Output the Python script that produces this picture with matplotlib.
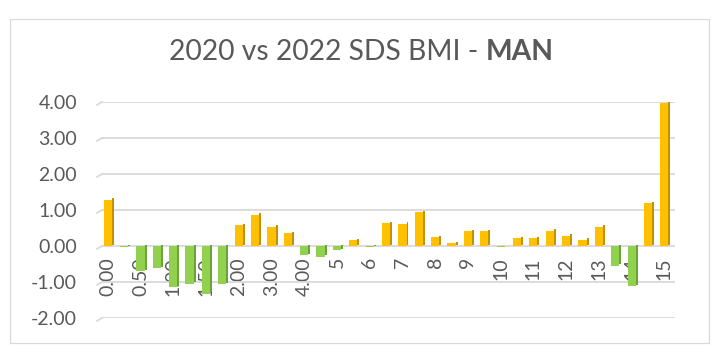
import matplotlib

matplotlib.use("Agg")
import matplotlib.pyplot as plt
import numpy as np
from matplotlib.patches import Rectangle

# categories (only every second one is labelled on the axis)
categories = [
    "0.00", "0.25", "0.50", "0.75", "1.00", "1.25", "1.50", "1.75", "2.00",
    "2.50", "3.00", "3.50", "4.00", "4.50",
    "5", "5.5", "6", "6.5", "7", "7.5", "8", "8.5", "9", "9.5", "10",
    "10.5", "11", "11.5", "12", "12.5", "13", "13.5", "14", "14.5", "15",
]
values = [
    1.28, -0.03, -0.70, -0.62, -1.15, -1.05, -1.32, -1.06, 0.58,
    0.87, 0.54, 0.35, -0.26, -0.30,
    -0.12, 0.16, -0.03, 0.63, 0.62, 0.94, 0.25, 0.08, 0.41, 0.41, -0.02,
    0.22, 0.22, 0.42, 0.29, 0.18, 0.53, -0.55, -1.11, 1.19, 3.97,
]
y_ticks = [-2, -1, 0, 1, 2, 3, 4]
title_main = "2020 vs 2022 SDS BMI - "
title_bold = "MAN"

TEXT = "#595959"
GRID = "#D9D9D9"
POS_FACE, POS_SIDE = "#FFC000", "#C29100"
NEG_FACE, NEG_SIDE = "#92D050", "#6AA436"

plt.rcParams["font.family"] = ["Lato", "DejaVu Sans"]

W, H = 719, 358
fig = plt.figure(figsize=(W / 100, H / 100), dpi=100)
fig.add_artist(
    Rectangle((10 / W, 15 / H), 699 / W, 324 / H, transform=fig.transFigure,
              fill=False, edgecolor=GRID, linewidth=0.9)
)
ax = fig.add_axes([102 / W, 40 / H, 573 / W, 216 / H])

x = np.arange(len(values))
vals = np.array(values)
pos = vals >= 0
face = np.where(pos, POS_FACE, NEG_FACE)
side = np.where(pos, POS_SIDE, NEG_SIDE)

# pseudo-3D: darker side strip behind the front face
ax.bar(x + 0.31, vals, width=0.12, bottom=0.04, color=side, zorder=2)
ax.bar(x, vals, width=0.5, color=face, zorder=3)

ax.set_xlim(-0.35, len(values) - 0.35)
ax.set_ylim(-2, 4)
# category axis crosses at zero (set before tick labels: this resets ticks)
ax.spines["bottom"].set_position(("data", 0))
for s in ax.spines.values():
    s.set_visible(False)

ax.set_yticks(y_ticks)
ax.set_yticklabels([f"{t:.2f}" for t in y_ticks])
ax.yaxis.grid(True, color=GRID, linewidth=1.3)
ax.set_axisbelow(True)
for t in y_ticks:
    ax.plot([-0.65, -0.35], [t - 0.08, t], color=GRID, linewidth=1.3,
            clip_on=False, zorder=1)

ax.set_xticks(x[::2])
ax.set_xticklabels(categories[::2])
ax.tick_params(axis="y", length=0, pad=18, labelsize=14, labelcolor=TEXT)
ax.tick_params(axis="x", length=0, pad=8, labelsize=14, labelcolor=TEXT,
               labelrotation=90)

# title with bold tail
renderer = fig.canvas.get_renderer()
ty = (H - 60) / H
t1 = fig.text(0, ty, title_main, fontsize=20.3, color=TEXT, va="baseline")
t2 = fig.text(0, ty, title_bold, fontsize=20.3, color=TEXT, weight="bold", va="baseline")
w1 = t1.get_window_extent(renderer).width
w2 = t2.get_window_extent(renderer).width
x0 = 361 - (w1 + w2) / 2
t1.set_x(x0 / W)
t2.set_x((x0 + w1) / W)

fig.savefig("out.png", dpi=100)
